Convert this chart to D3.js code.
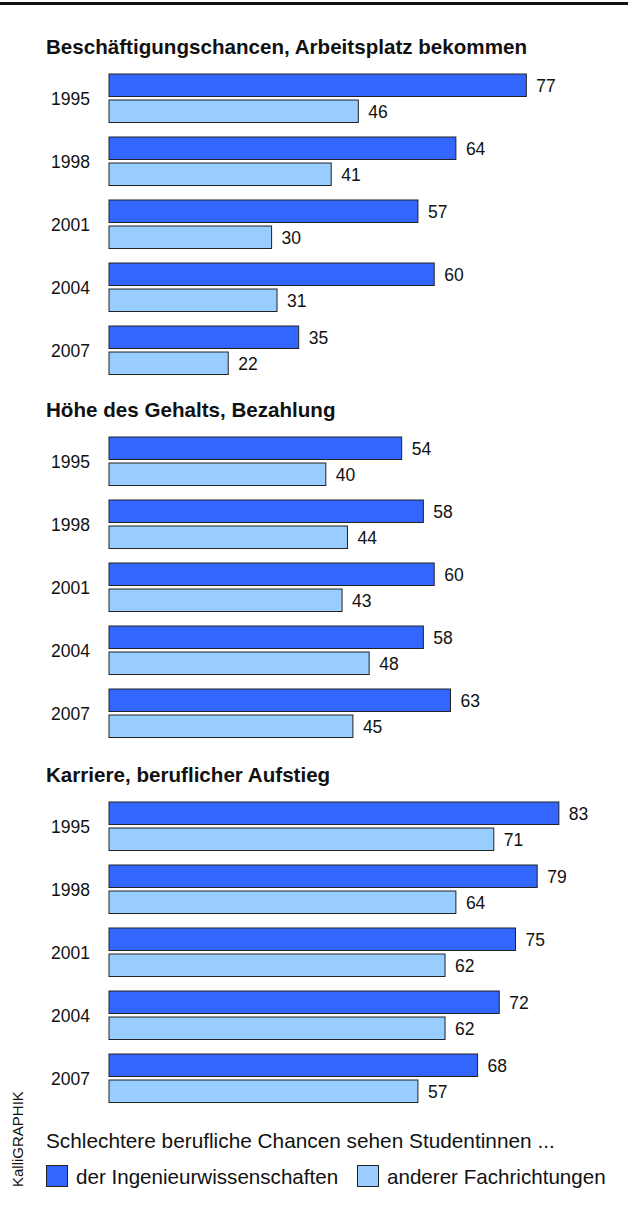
<!DOCTYPE html>
<html>
<head>
<meta charset="utf-8">
<script src="https://cdn.jsdelivr.net/npm/d3@7"></script>
<style>
  body { margin: 0; background: #fff; }
  svg text { font-family: "Liberation Sans", Arial, sans-serif; fill: #111; }
</style>
</head>
<body>
<svg id="chart"></svg>
<script>
const years = ["1995", "1998", "2001", "2004", "2007"];
const sectionTitles = [
  "Beschäftigungschancen, Arbeitsplatz bekommen",
  "Höhe des Gehalts, Bezahlung",
  "Karriere, beruflicher Aufstieg"
];
// Ingenieurwissenschaften, per section, per year
const ingenieur = [
  [77, 64, 57, 60, 35],
  [54, 58, 60, 58, 63],
  [83, 79, 75, 72, 68]
];
// andere Fachrichtungen
const andere = [
  [46, 41, 30, 31, 22],
  [40, 44, 43, 48, 45],
  [71, 64, 62, 62, 57]
];
const seriesKeys = ["ing", "and"];
const seriesNames = ["der Ingenieurwissenschaften", "anderer Fachrichtungen"];
const legendTitle = "Schlechtere berufliche Chancen sehen Studentinnen ...";
const credit = "KalliGRAPHIK";

const width = 628, height = 1216;
const colors = { ing: "#3366ff", and: "#99ccff" };

const svg = d3.select("#chart")
  .attr("width", width)
  .attr("height", height);

// top rule
svg.append("rect")
  .attr("x", 0).attr("y", 2)
  .attr("width", width).attr("height", 3)
  .attr("fill", "#111");

const x = d3.scaleLinear().domain([0, 100]).range([109, 651]);

const sectionTops = [74, 437, 802];
const groupStep = 63;

sectionTitles.forEach((title, s) => {
  const top = sectionTops[s];
  const g = svg.append("g");

  g.append("text")
    .attr("x", 46)
    .attr("y", top - 20)
    .attr("font-size", 20.6)
    .attr("font-weight", "bold")
    .text(title);

  const y = d3.scaleBand()
    .domain(years)
    .range([top, top + groupStep * (5 - 0.23)])
    .paddingInner(0.23)
    .paddingOuter(0);

  const ySub = d3.scaleBand()
    .domain(seriesKeys)
    .range([0, y.bandwidth()])
    .paddingInner(0.135);

  const rows = years.map((yr, i) => ({ year: yr, ing: ingenieur[s][i], and: andere[s][i] }));

  const grp = g.selectAll("g.year")
    .data(rows)
    .join("g")
    .attr("class", "year")
    .attr("transform", d => `translate(0,${y(d.year)})`);

  grp.append("text")
    .attr("x", 90)
    .attr("y", y.bandwidth() / 2)
    .attr("dy", "0.36em")
    .attr("text-anchor", "end")
    .attr("font-size", 17.5)
    .text(d => d.year);

  const bars = grp.selectAll("g.bar")
    .data(d => seriesKeys.map(k => ({ key: k, value: d[k] })))
    .join("g")
    .attr("class", "bar");

  bars.append("rect")
    .attr("x", x(0))
    .attr("y", d => ySub(d.key))
    .attr("width", d => x(d.value) - x(0))
    .attr("height", ySub.bandwidth())
    .attr("fill", d => colors[d.key])
    .attr("stroke", "#222")
    .attr("stroke-width", 1);

  bars.append("text")
    .attr("x", d => x(d.value) + 10)
    .attr("y", d => ySub(d.key) + ySub.bandwidth() / 2)
    .attr("dy", "0.36em")
    .attr("font-size", 17.5)
    .text(d => d.value);
});

// legend
svg.append("text")
  .attr("x", 46)
  .attr("y", 1148)
  .attr("font-size", 20.8)
  .text(legendTitle);

const legendX = [46, 357];
seriesKeys.forEach((k, i) => {
  svg.append("rect")
    .attr("x", legendX[i] + 0.5)
    .attr("y", 1165.5)
    .attr("width", 21)
    .attr("height", 21)
    .attr("fill", colors[k])
    .attr("stroke", "#222");
  svg.append("text")
    .attr("x", legendX[i] + 30)
    .attr("y", 1184)
    .attr("font-size", 20.6)
    .text(seriesNames[i]);
});

svg.append("text")
  .attr("transform", "translate(23,1187) rotate(-90)")
  .attr("font-size", 15)
  .text(credit);
</script>
</body>
</html>
